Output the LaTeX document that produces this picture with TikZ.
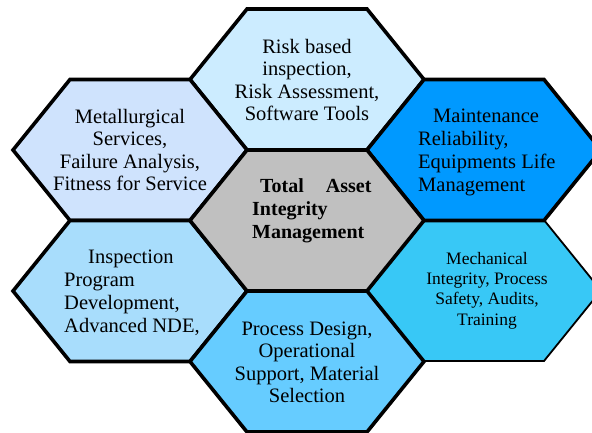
\documentclass[tikz,border=0pt]{standalone}
\usepackage{fontspec}
\setmainfont{Liberation Serif}
\definecolor{cTop}{HTML}{CCECFF}
\definecolor{cMet}{HTML}{CFE3FD}
\definecolor{cMain}{HTML}{0099FF}
\definecolor{cInsp}{HTML}{A8DDFC}
\definecolor{cProc}{HTML}{66CCFF}
\definecolor{cMech}{HTML}{38C8F6}
\definecolor{cCen}{HTML}{C0C0C0}
\tikzset{
  hexa/.style={draw=black, line width=3.6pt, line join=miter},
  pics/hexcell/.style={code={\draw[hexa,#1] (-117,0) -- (-60,-70.5) -- (60,-70.5) -- (117,0) -- (60,70.5) -- (-60,70.5) -- cycle;}},
  lbl/.style={inner sep=0pt, font=\fontsize{20.5}{22.5}\selectfont, align=center},
  lbll/.style={inner sep=0pt, font=\fontsize{20.5}{23}\selectfont, align=left, anchor=west},
}
\begin{document}
\begin{tikzpicture}[x=1pt,y=-1pt]
\useasboundingbox (0,0) rectangle (592,433);
\clip (0,0) rectangle (592,433);
\coordinate (cMechC) at (484,290.5);
\pic at (cMechC) {hexcell={fill=cMech, line width=1.8pt}};
\coordinate (cTopC) at (307,79.5);
\coordinate (cMetC) at (130,150);
\coordinate (cMainC) at (484,150);
\coordinate (cInspC) at (130,291);
\coordinate (cProcC) at (307,361.5);
\coordinate (cCenC) at (307,220.5);
\pic at (cTopC) {hexcell={fill=cTop}};
\pic at (cMetC) {hexcell={fill=cMet}};
\pic at (cMainC) {hexcell={fill=cMain}};
\pic at (cInspC) {hexcell={fill=cInsp}};
\pic at (cProcC) {hexcell={fill=cProc}};
\pic at (cCenC) {hexcell={fill=cCen}};
\node[lbl] (tTop) at (307,80) {Risk based\\inspection,\\Risk Assessment,\\Software Tools};
\node[lbl] (tMet) at (130,150) {Metallurgical\\Services,\\Failure Analysis,\\Fitness for Service};
\node[lbll] (tMain) at (418,152) {\hspace*{15pt}Maintenance\\Reliability,\\Equipments Life\\Management};
\node[lbll] (tInsp) at (64,292.5) {\hspace*{24pt}Inspection\\Program\\Development,\\Advanced NDE,};
\node[lbl] (tProc) at (307,362.5) {Process Design,\\Operational\\Support, Material\\Selection};
\node[lbl, font=\fontsize{17.5}{20.3}\selectfont] (tMech) at (487,290.5) {Mechanical\\Integrity, Process\\Safety, Audits,\\Training};
\node[lbll, font=\fontsize{20}{23}\selectfont\bfseries] (tCen) at (252,211) {\hspace*{8pt}Total\hspace{22pt}Asset\\Integrity\\Management};
\end{tikzpicture}
\end{document}
